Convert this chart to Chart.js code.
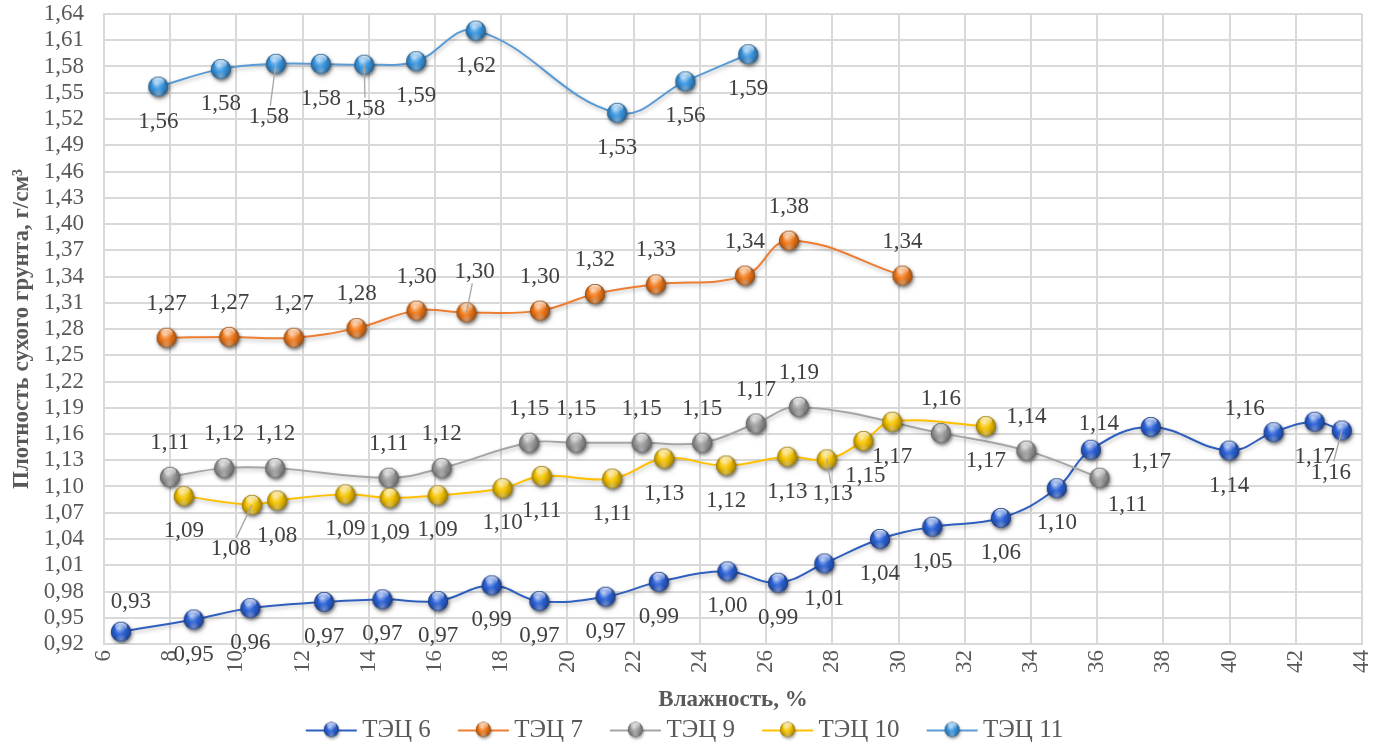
<!DOCTYPE html>
<html>
<head>
<meta charset="utf-8">
<script src="https://cdn.jsdelivr.net/npm/chart.js@4/dist/chart.umd.min.js"></script>
<style>
  html, body { margin: 0; padding: 0; background: #ffffff; }
  #c { display: block; }
</style>
</head>
<body>
<canvas id="c" width="1373" height="744"></canvas>
<script>
// ---- Data: moisture (%) and dry soil density (g/cm³) per plant ----
const seriesNames = ['ТЭЦ 6', 'ТЭЦ 7', 'ТЭЦ 9', 'ТЭЦ 10', 'ТЭЦ 11'];

const tec6Moisture = [6.51, 8.71, 10.42, 12.65, 14.41, 16.09, 17.71, 19.15, 21.15, 22.76, 24.83, 26.36,
                      27.76, 29.44, 31.02, 33.09, 34.78, 35.81, 37.62, 39.99, 41.33, 42.57, 43.39];
const tec6Density  = [0.934, 0.948, 0.961, 0.968, 0.971, 0.969, 0.987, 0.969, 0.974, 0.991, 1.003, 0.990,
                      1.012, 1.040, 1.054, 1.064, 1.098, 1.142, 1.168, 1.141, 1.162, 1.174, 1.164];

const tec7Moisture = [7.89, 9.78, 11.73, 13.63, 15.44, 16.95, 19.17, 20.83, 22.67, 25.36, 26.69, 30.12];
const tec7Density  = [1.270, 1.271, 1.270, 1.281, 1.301, 1.299, 1.301, 1.320, 1.331, 1.341, 1.381, 1.341];

const tec9Moisture = [7.99, 9.63, 11.17, 14.60, 16.20, 18.84, 20.26, 22.24, 24.07, 25.69, 26.99, 31.28, 33.86, 36.07];
const tec9Density  = [1.111, 1.121, 1.121, 1.110, 1.121, 1.150, 1.150, 1.150, 1.150, 1.172, 1.191, 1.161, 1.141, 1.110];

const tec10Moisture = [8.41, 10.47, 11.23, 13.29, 14.63, 16.08, 18.04, 19.22, 21.35, 22.92, 24.79, 26.64,
                       27.83, 28.94, 29.81, 32.64];
const tec10Density  = [1.089, 1.079, 1.084, 1.091, 1.087, 1.090, 1.098, 1.112, 1.109, 1.132, 1.124, 1.134,
                       1.131, 1.152, 1.174, 1.169];

const tec11Moisture = [7.64, 9.53, 11.19, 12.55, 13.86, 15.43, 17.23, 21.50, 23.56, 25.46];
const tec11Density  = [1.557, 1.577, 1.583, 1.583, 1.582, 1.586, 1.621, 1.527, 1.563, 1.594];

// Axis ranges and tick steps
const xAxisMin = 6, xAxisMax = 44, xAxisStep = 2;
const yAxisMin = 0.92, yAxisMax = 1.64, yAxisStep = 0.03;

// ---- Styling ----
const lineColors   = ['#2F5FBE', '#ED7D31', '#A5A5A5', '#FFC000', '#5B9BD5'];
const markerColors = ['#2C63D8', '#F27B1C', '#9E9E9E', '#F6C400', '#3B98E2'];

// Value label placement: [dx, dy, leaderLine] relative to the marker
const B = [0, 35], A = [0, -34];
const labelPlacement = [
  [[10, -30], B, B, B, B, B, B, B, B, B, B, B, B, B, B, B, B, [8, -26], B, B, [-29, -23], B, [-11, 42, true]],
  [A, A, A, A, A, [8, -40, true], A, A, A, A, A, A],
  [A, A, A, A, A, A, A, A, A, A, A, A, A, [28, 27]],
  [B, [-21, 44, true], B, B, B, B, B, B, B, B, B, B, [6, 35, true], [2, 35], B, B],
  [B, B, [-7, 53, true], B, [1, 44, true], B, B, B, B, B]
];

// ---- Helpers ----
function hexToRgb(h) {
  const n = parseInt(h.slice(1), 16);
  return [(n >> 16) & 255, (n >> 8) & 255, n & 255];
}
function mix(h, to, t) {
  const a = hexToRgb(h), b = hexToRgb(to);
  return 'rgb(' + a.map((v, i) => Math.round(v + (b[i] - v) * t)).join(',') + ')';
}

// Glossy sphere marker
function drawSphere(g, cx, cy, r, base) {
  g.save();
  g.shadowColor = 'rgba(0,0,0,0.35)';
  g.shadowBlur = 3;
  g.shadowOffsetX = 1;
  g.shadowOffsetY = 2;
  g.beginPath();
  g.arc(cx, cy, r, 0, Math.PI * 2);
  g.fillStyle = mix(base, '#000000', 0.3);
  g.fill();
  g.restore();

  const body = g.createRadialGradient(cx - r * 0.2, cy - r * 0.35, r * 0.05, cx, cy, r * 1.02);
  body.addColorStop(0, mix(base, '#ffffff', 0.55));
  body.addColorStop(0.45, base);
  body.addColorStop(0.85, mix(base, '#000000', 0.25));
  body.addColorStop(1, mix(base, '#000000', 0.45));
  g.beginPath();
  g.arc(cx, cy, r, 0, Math.PI * 2);
  g.fillStyle = body;
  g.fill();

  // bottom reflection
  const refl = g.createRadialGradient(cx, cy + r * 0.75, 0, cx, cy + r * 0.75, r * 0.6);
  refl.addColorStop(0, 'rgba(255,255,255,0.35)');
  refl.addColorStop(1, 'rgba(255,255,255,0)');
  g.beginPath();
  g.arc(cx, cy, r, 0, Math.PI * 2);
  g.fillStyle = refl;
  g.fill();

  // top gloss
  const gloss = g.createLinearGradient(0, cy - r * 0.95, 0, cy - r * 0.1);
  gloss.addColorStop(0, 'rgba(255,255,255,0.85)');
  gloss.addColorStop(1, 'rgba(255,255,255,0)');
  g.beginPath();
  g.ellipse(cx, cy - r * 0.5, r * 0.62, r * 0.42, 0, 0, Math.PI * 2);
  g.fillStyle = gloss;
  g.fill();
}

function sphereImage(base, r) {
  const pad = 5;
  const s = Math.ceil(2 * r + 2 * pad);
  const c = document.createElement('canvas');
  c.width = s; c.height = s;
  drawSphere(c.getContext('2d'), s / 2, s / 2, r, base);
  return c;
}

// Legend key: short line with a sphere in its middle.
// The key image is wider than the legend box so the line sits close to its text.
const legendBox = 51;
function legendImage(lineColor, base) {
  const w = 69, h = 22;
  const c = document.createElement('canvas');
  c.width = w; c.height = h;
  const g = c.getContext('2d');
  const x0 = 16, x1 = 67;
  g.strokeStyle = lineColor;
  g.lineWidth = 2;
  g.beginPath();
  g.moveTo(x0, h / 2);
  g.lineTo(x1, h / 2);
  g.stroke();
  drawSphere(g, (x0 + x1) / 2, h / 2 - 1, 7.5, base);
  return c;
}

const fmt = v => v.toFixed(2).replace('.', ',');
const toPoints = (xs, ys) => xs.map((x, i) => ({ x: x, y: ys[i] }));

const seriesPoints = [
  toPoints(tec6Moisture, tec6Density),
  toPoints(tec7Moisture, tec7Density),
  toPoints(tec9Moisture, tec9Density),
  toPoints(tec10Moisture, tec10Density),
  toPoints(tec11Moisture, tec11Density)
];

const datasets = seriesPoints.map((pts, i) => ({
  label: seriesNames[i],
  data: pts,
  showLine: true,
  borderColor: lineColors[i],
  backgroundColor: lineColors[i],
  borderWidth: 2,
  tension: 0.4,
  pointStyle: sphereImage(markerColors[i], 10),
  legendStyle: legendImage(lineColors[i], markerColors[i]),
  order: seriesNames.length - i
}));

// Soft shadow under each series
const seriesShadow = {
  id: 'seriesShadow',
  beforeDatasetDraw(chart) {
    const ctx = chart.ctx;
    ctx.save();
    ctx.shadowColor = 'rgba(0,0,0,0.28)';
    ctx.shadowBlur = 4;
    ctx.shadowOffsetX = 1;
    ctx.shadowOffsetY = 2;
  },
  afterDatasetDraw(chart) {
    chart.ctx.restore();
  }
};

const serif = '"Liberation Serif", "Times New Roman", serif';

// Value labels next to each marker
const pointValues = {
  id: 'pointValues',
  afterDatasetsDraw(chart) {
    const ctx = chart.ctx;
    ctx.save();
    ctx.font = '23px ' + serif;
    ctx.textAlign = 'center';
    ctx.textBaseline = 'middle';
    chart.data.datasets.forEach((ds, di) => {
      const meta = chart.getDatasetMeta(di);
      meta.data.forEach((pt, i) => {
        const p = labelPlacement[di][i];
        const tx = pt.x + p[0], ty = pt.y + p[1];
        if (p[2]) {
          const vx = pt.x - tx, vy = pt.y - ty;
          const t = Math.min(Math.abs(vx) > 0.01 ? 21 / Math.abs(vx) : 99, Math.abs(vy) > 0.01 ? 11 / Math.abs(vy) : 99);
          ctx.strokeStyle = '#A6A6A6';
          ctx.lineWidth = 1.3;
          ctx.beginPath();
          ctx.moveTo(pt.x, pt.y);
          ctx.lineTo(tx + vx * t, ty + vy * t);
          ctx.stroke();
        }
        ctx.fillStyle = '#404040';
        ctx.fillText(fmt(ds.data[i].y), tx, ty);
      });
    });
    ctx.restore();
  }
};

new Chart(document.getElementById('c'), {
  type: 'scatter',
  data: { datasets: datasets },
  options: {
    responsive: false,
    animation: false,
    events: [],
    layout: { padding: { top: 14, right: 11, left: 0, bottom: -9 } },
    plugins: {
      tooltip: { enabled: false },
      legend: {
        position: 'bottom',
        labels: {
          usePointStyle: true,
          pointStyleWidth: legendBox,
          padding: 20,
          color: '#595959',
          font: { family: serif, size: 25 },
          generateLabels(chart) {
            return chart.data.datasets.map((ds, i) => ({
              text: ds.label,
              pointStyle: ds.legendStyle,
              fontColor: '#595959',
              lineWidth: 0,
              strokeStyle: 'transparent',
              fillStyle: 'transparent',
              hidden: false,
              datasetIndex: i
            }));
          }
        }
      }
    },
    scales: {
      x: {
        type: 'linear',
        min: xAxisMin,
        max: xAxisMax,
        afterFit(scale) { scale.height = 54; },
        grid: { color: '#D9D9D9', lineWidth: 2, drawTicks: true, tickLength: 6, tickColor: 'rgba(0,0,0,0)' },
        border: { color: '#D9D9D9', width: 2 },
        ticks: {
          stepSize: xAxisStep,
          autoSkip: false,
          minRotation: 90,
          maxRotation: 90,
          padding: 0,
          color: '#595959',
          font: { family: serif, size: 23, lineHeight: 0.4 },
          callback: v => String(v)
        },
        title: {
          display: true,
          text: 'Влажность, %',
          color: '#595959',
          font: { family: serif, size: 23, weight: 'bold', lineHeight: 1 },
          padding: { top: 0, bottom: -14 }
        }
      },
      y: {
        type: 'linear',
        min: yAxisMin,
        max: yAxisMax,
        afterFit(scale) { scale.width = 104; },
        grid: { color: '#D9D9D9', lineWidth: 2, drawTicks: true, tickLength: 20, tickColor: 'rgba(0,0,0,0)' },
        border: { color: '#D9D9D9', width: 2 },
        ticks: {
          stepSize: yAxisStep,
          autoSkip: false,
          padding: 0,
          color: '#595959',
          font: { family: serif, size: 23, lineHeight: 1 },
          callback: v => fmt(v)
        },
        title: {
          display: true,
          text: 'Плотность сухого грунта, г/см³',
          color: '#595959',
          font: { family: serif, size: 23, weight: 'bold', lineHeight: 1.2 },
          padding: { top: 8, bottom: 0 }
        }
      }
    }
  },
  plugins: [seriesShadow, pointValues]
});
</script>
</body>
</html>
